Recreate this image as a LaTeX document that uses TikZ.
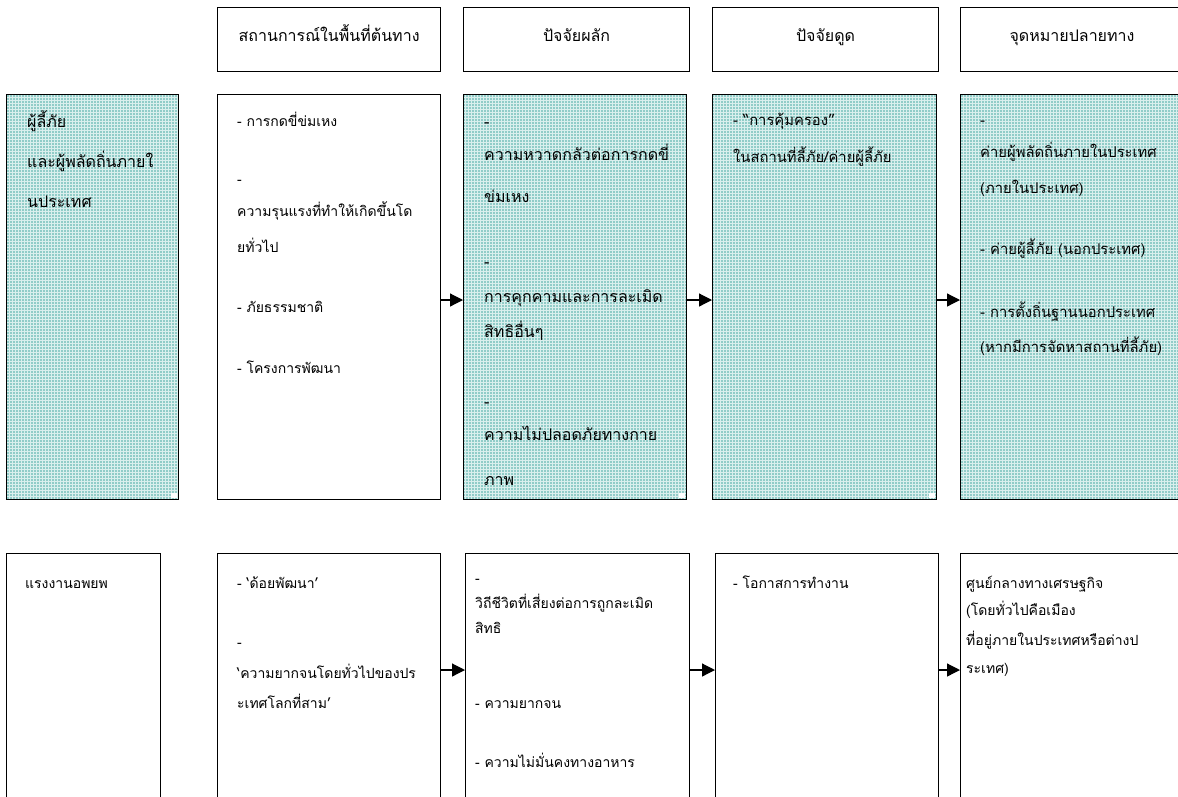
\documentclass[tikz,border=0pt]{standalone}
\usepackage{fontspec}
\newfontfamily\thaifont[Script=Thai]{Loma}
\usetikzlibrary{arrows.meta,patterns}
\definecolor{tealbase}{RGB}{145,204,200}
\definecolor{gridc}{RGB}{218,239,237}
\begin{document}
\begin{tikzpicture}[x=1pt,y=-1pt,
  bx/.style={draw, line width=1.2pt, inner sep=0pt, anchor=north west},
  fbx/.style={inner sep=0pt, anchor=north west, fill=tealbase,
     postaction={pattern=grid, pattern color=gridc},
     postaction={draw, line width=1.2pt}},
  hdr/.style={bx, minimum height=64pt},
  th/.style={anchor=base, inner sep=0pt, font=\thaifont\fontsize{16}{18}\selectfont},
  ta/.style={anchor=base west, inner sep=0pt, font=\thaifont\fontsize{16}{18}\selectfont},
  td/.style={anchor=base west, inner sep=0pt, font=\thaifont\fontsize{14.8}{17}\selectfont},
  tb/.style={anchor=base west, inner sep=0pt, font=\thaifont\fontsize{14}{16}\selectfont},
  tc/.style={anchor=base west, inner sep=0pt, font=\thaifont\fontsize{14}{16}\selectfont},
  arr/.style={line width=1.2pt, -{Triangle[length=13pt,width=13pt]}}]
\useasboundingbox (0,0) rectangle (1178,796);

% header boxes
\node[hdr, minimum width=223pt] (h1) at (217,7) {};
\node[hdr, minimum width=226pt] (h2) at (463,7) {};
\node[hdr, minimum width=226pt] (h3) at (712,7) {};
\node[hdr, minimum width=224pt] (h4) at (960,7) {};
\node[th] (h1t) at (h1.center |- 0,41) {สถานการณ์ในพื้นที่ต้นทาง};
\node[th] (h2t) at (h2.center |- 0,41) {ปัจจัยผลัก};
\node[th] (h3t) at (h3.center |- 0,41) {ปัจจัยดูด};
\node[th] (h4t) at (1072,41) {จุดหมายปลายทาง};

% row 1 boxes
\node[fbx, minimum width=172pt, minimum height=405pt] (a0) at (6,94) {};
\node[bx,  minimum width=223pt, minimum height=405pt] (a1) at (217,94) {};
\node[fbx, minimum width=223pt, minimum height=405pt] (a2) at (463,94) {};
\node[fbx, minimum width=224pt, minimum height=405pt] (a3) at (712,94) {};
\node[fbx, minimum width=230pt, minimum height=405pt] (a4) at (960,94) {};
\foreach \b in {a0,a2,a3}
  \fill[white] ([xshift=-7pt,yshift=1.2pt]\b.south east) rectangle ([xshift=-1.2pt,yshift=6pt]\b.south east);

% row 2 boxes
\node[bx, minimum width=154pt, minimum height=270pt] (b0) at (6,553) {};
\node[bx, minimum width=223pt, minimum height=270pt] (b1) at (217,553) {};
\node[bx, minimum width=224pt, minimum height=270pt] (b2) at (465,553) {};
\node[bx, minimum width=223pt, minimum height=270pt] (b3) at (715,553) {};
\node[bx, minimum width=230pt, minimum height=270pt] (b4) at (960,553) {};

% arrows
\draw[arr] (a1.east |- 0,300) -- (a2.west |- 0,300);
\draw[arr] (a2.east |- 0,300) -- (a3.west |- 0,300);
\draw[arr] (a3.east |- 0,300) -- (a4.west |- 0,300);
\draw[arr] (b1.east |- 0,670) -- (b2.west |- 0,670);
\draw[arr] (b2.east |- 0,670) -- (b3.west |- 0,670);
\draw[arr] (b3.east |- 0,670) -- (b4.west |- 0,670);

% row 1 texts
\node[ta] (a0t1) at (27,127) {ผู้ลี้ภัย};
\node[ta] (a0t2) at (27,167) {และผู้พลัดถิ่นภายใ};
\node[ta] (a0t3) at (27,207) {นประเทศ};

\node[tb] (a1t1) at (237,126) {- การกดขี่ข่มเหง};
\node[tb] (a1t2) at (237,184) {-};
\node[tb] (a1t3) at (237,216) {ความรุนแรงที่ทำให้เกิดขึ้นโด};
\node[tb] (a1t4) at (237,252) {ยทั่วไป};
\node[tb] (a1t5) at (237,312) {- ภัยธรรมชาติ};
\node[tb] (a1t6) at (237,373) {- โครงการพัฒนา};

\node[ta] (a2t1) at (484,127) {-};
\node[ta] (a2t2) at (484,160) {ความหวาดกลัวต่อการกดขี่};
\node[ta] (a2t3) at (484,202) {ข่มเหง};
\node[ta] (a2t4) at (484,267) {-};
\node[ta] (a2t5) at (484,302) {การคุกคามและการละเมิด};
\node[ta] (a2t6) at (484,337) {สิทธิอื่นๆ};
\node[ta] (a2t7) at (484,407) {-};
\node[ta] (a2t8) at (484,440) {ความไม่ปลอดภัยทางกาย};
\node[ta] (a2t9) at (484,485) {ภาพ};

\node[td] (a3t1) at (733,125) {- “การคุ้มครอง”};
\node[td] (a3t2) at (733,162) {ในสถานที่ลี้ภัย/ค่ายผู้ลี้ภัย};

\node[td] (a4t1) at (980,125) {-};
\node[td] (a4t2) at (980,157) {ค่ายผู้พลัดถิ่นภายในประเทศ};
\node[td] (a4t3) at (980,193) {(ภายในประเทศ)};
\node[td] (a4t4) at (980,254) {- ค่ายผู้ลี้ภัย (นอกประเทศ)};
\node[td] (a4t5) at (980,317) {- การตั้งถิ่นฐานนอกประเทศ};
\node[td] (a4t6) at (980,352) {(หากมีการจัดหาสถานที่ลี้ภัย)};

% row 2 texts
\node[tc] (b0t1) at (25,588) {แรงงานอพยพ};

\node[tc] (b1t1) at (237,588) {- ‘ด้อยพัฒนา’};
\node[tc] (b1t2) at (237,647) {-};
\node[tc] (b1t3) at (237,678) {‘ความยากจนโดยทั่วไปของปร};
\node[tc] (b1t4) at (237,708) {ะเทศโลกที่สาม’};

\node[tc] (b2t1) at (475,583) {-};
\node[tc] (b2t2) at (475,608) {วิถีชีวิตที่เสี่ยงต่อการถูกละเมิด};
\node[tc] (b2t3) at (475,633) {สิทธิ};
\node[tc] (b2t4) at (475,708) {- ความยากจน};
\node[tc] (b2t5) at (475,767) {- ความไม่มั่นคงทางอาหาร};

\node[tc] (b3t1) at (733,588) {- โอกาสการทำงาน};

\node[tc] (b4t1) at (966,588) {ศูนย์กลางทางเศรษฐกิจ};
\node[tc] (b4t2) at (966,615) {(โดยทั่วไปคือเมือง};
\node[tc] (b4t3) at (966,645) {ที่อยู่ภายในประเทศหรือต่างป};
\node[tc] (b4t4) at (966,673) {ระเทศ)};
\end{tikzpicture}
\end{document}
